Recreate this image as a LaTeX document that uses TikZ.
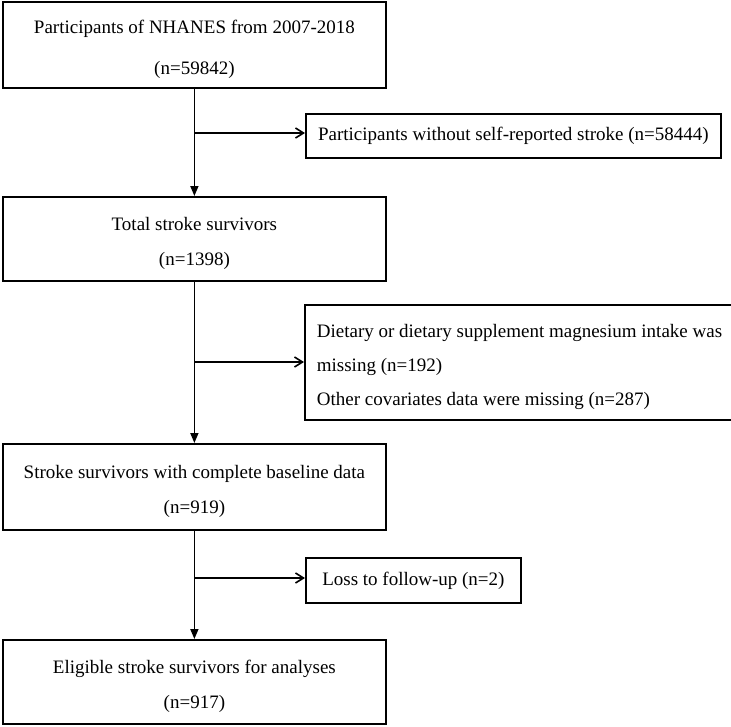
\documentclass[tikz,border=0pt]{standalone}
\usepackage{fontspec}
\setmainfont{Liberation Serif}
\usetikzlibrary{arrows.meta}
\newcommand\upgap{\rule{0pt}{22.5pt}}
\begin{document}
\begin{tikzpicture}[x=1pt,y=-1pt,
  mainbox/.style={draw, line width=1.8pt, anchor=north west, minimum width=383pt,
    inner sep=0pt, align=center, font=\fontsize{19}{35}\selectfont},
  sidebox/.style={draw, line width=1.8pt, anchor=north west, inner xsep=12pt,
    inner ysep=0pt, align=left, font=\fontsize{19}{34}\selectfont},
  flow/.style={line width=1.6pt, -{Triangle[length=10pt,width=8pt]}},
  branch/.style={line width=1.6pt, -{Straight Barb[length=8pt,width=10pt]}}]
\useasboundingbox (0,0) rectangle (731,726);
\node[mainbox, minimum height=86pt, font=\fontsize{19}{41}\selectfont] (b1) at (2,1)
  {\upgap Participants of NHANES from 2007-2018\\(n=59842)};
\node[sidebox, minimum width=415pt, minimum height=44pt, align=center] (b2) at (305,113)
  {Participants without self-reported stroke (n=58444)};
\node[mainbox, minimum height=84pt] (b3) at (2,196)
  {\upgap Total stroke survivors\\(n=1398)};
\node[sidebox, minimum width=425pt, minimum height=115pt] (b4) at (304,304)
  {\upgap Dietary or dietary supplement magnesium intake was\\missing (n=192)\\Other covariates data were missing (n=287)};
\node[mainbox, minimum height=86pt] (b5) at (2,443)
  {\upgap Stroke survivors with complete baseline data\\(n=919)};
\node[sidebox, minimum width=215pt, minimum height=45pt, align=center] (b6) at (305,557)
  {Loss to follow-up (n=2)};
\node[mainbox, minimum height=84pt] (b7) at (2,639)
  {\upgap Eligible stroke survivors for analyses\\(n=917)};
\coordinate (j1) at (b1.south |- 0,133);
\coordinate (j2) at (b3.south |- 0,362);
\coordinate (j3) at (b5.south |- 0,578);
\draw[flow] (b1.south) -- (b3.north);
\draw[flow] (b3.south) -- (b5.north);
\draw[flow] (b5.south) -- (b7.north);
\draw[branch] (j1) -- (j1 -| b2.west);
\draw[branch] (j2) -- (j2 -| b4.west);
\draw[branch] (j3) -- (j3 -| b6.west);
\end{tikzpicture}
\end{document}
